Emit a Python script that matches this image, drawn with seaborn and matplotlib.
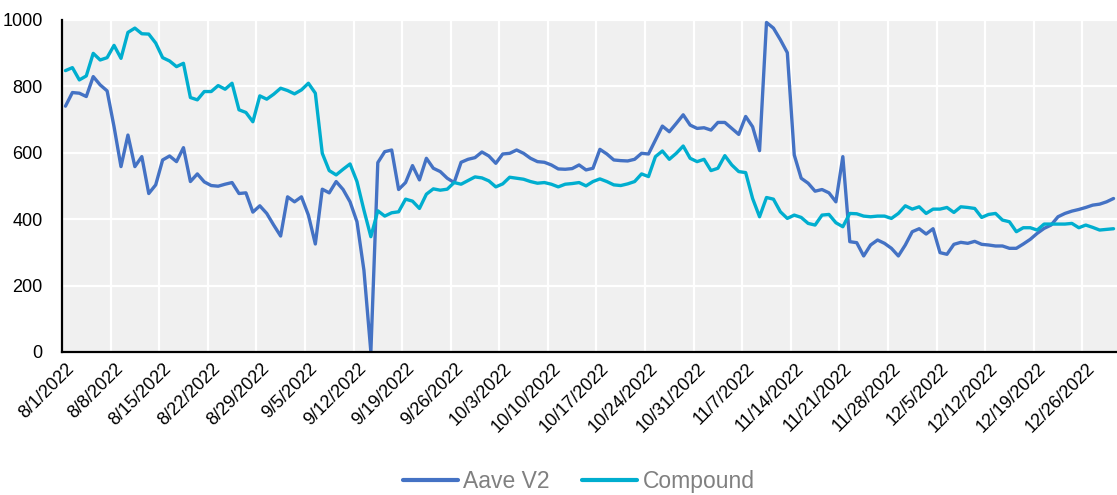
import matplotlib
matplotlib.use("Agg")
import matplotlib.pyplot as plt
import matplotlib.transforms as mtransforms
import pandas as pd
import seaborn as sns

# Datos diarios (8/1/2022 - 12/30/2022)
fecha_inicio = "2022-08-01"

aave_v2 = [
    740, 781, 779, 769, 829, 804, 786, 678, 558, 653,
    558, 588, 477, 503, 578, 590, 573, 615, 513, 536,
    512, 501, 499, 505, 510, 477, 479, 421, 440, 417,
    382, 349, 467, 452, 467, 412, 325, 490, 479, 513,
    489, 452, 392, 246, 0, 570, 603, 608, 489, 510,
    561, 518, 583, 553, 543, 523, 510, 571, 580, 585,
    602, 590, 568, 596, 598, 608, 598, 583, 573, 571,
    563, 551, 550, 552, 563, 548, 553, 610, 596, 578,
    576, 575, 580, 598, 596, 638, 680, 663, 688, 714,
    683, 673, 675, 668, 691, 691, 673, 655, 709, 678,
    606, 992, 975, 940, 901, 593, 523, 508, 484, 489,
    479, 452, 588, 332, 329, 289, 322, 337, 327, 312,
    289, 322, 362, 371, 355, 371, 299, 294, 324, 330,
    327, 333, 324, 322, 319, 319, 312, 312, 325, 339,
    357, 372, 382, 407, 417, 424, 429, 435, 442, 445,
    452, 462,
]

compound = [
    847, 856, 819, 831, 899, 879, 886, 923, 884, 962,
    975, 958, 957, 930, 886, 876, 859, 869, 766, 759,
    784, 784, 802, 791, 809, 729, 721, 693, 771, 761,
    776, 794, 787, 777, 789, 809, 779, 598, 546, 533,
    550, 566, 513, 427, 347, 425, 409, 419, 422, 460,
    454, 432, 475, 491, 487, 490, 510, 505, 516, 527,
    524, 515, 497, 506, 526, 523, 520, 513, 508, 510,
    505, 497, 505, 507, 510, 500, 513, 521, 513, 503,
    501, 506, 513, 536, 528, 588, 605, 580, 598, 620,
    583, 573, 580, 546, 553, 591, 563, 543, 540, 462,
    407, 465, 460, 422, 402, 412, 405, 387, 382, 412,
    414, 389, 377, 417, 416, 409, 407, 409, 409, 402,
    417, 440, 430, 437, 417, 430, 430, 435, 420, 437,
    435, 432, 405, 414, 417, 397, 392, 362, 374, 374,
    367, 385, 385, 385, 385, 387, 374, 382, 375, 367,
    369, 371,
]

series = ["Aave V2", "Compound"]
colores = ["#4472C4", "#00AECF"]

fechas = pd.date_range(fecha_inicio, periods=len(aave_v2), freq="D")
# los puntos van en el centro de cada día, como en Excel
df = pd.DataFrame({"Fecha": fechas + pd.Timedelta(hours=12),
                   "Aave V2": aave_v2, "Compound": compound})
largo = df.melt(id_vars="Fecha", var_name="Serie", value_name="Valor")

sns.set_theme(style="white")
plt.rcParams["font.family"] = ["Liberation Sans Narrow", "Liberation Sans", "DejaVu Sans"]

fig, ax = plt.subplots(figsize=(11.17, 4.95), dpi=100)
fig.subplots_adjust(left=0.0555, right=1.0, top=0.96, bottom=0.289)
ax.set_facecolor("#F0F0F0")

sns.lineplot(data=largo, x="Fecha", y="Valor", hue="Serie", hue_order=series,
             palette=colores, linewidth=2.4, ax=ax)

ax.set_xlim(fechas[0], fechas[-1] + pd.Timedelta(days=1))
ax.set_ylim(0, 1000)

marcas = pd.date_range(fecha_inicio, "2022-12-26", freq="7D")
ax.set_xticks(marcas)
ax.set_xticklabels([f"{d.month}/{d.day}/{d.year}" for d in marcas],
                   rotation=45, ha="right", va="top", rotation_mode="anchor")
ax.set_yticks(range(0, 1001, 200))

ax.grid(True, color="white", linewidth=1.6)
ax.set_axisbelow(True)
ax.set_xlabel("")
ax.set_ylabel("")

for lado in ["top", "right"]:
    ax.spines[lado].set_visible(False)
for lado in ["left", "bottom"]:
    ax.spines[lado].set_color("black")
    ax.spines[lado].set_linewidth(1.6)

ax.tick_params(axis="both", direction="in", length=4, width=1.2, color="black",
               labelsize=13, labelcolor="black")
ax.tick_params(axis="x", pad=6)
ax.tick_params(axis="y", pad=14)

# desplazar un poco las etiquetas de fecha a la derecha
desp = mtransforms.ScaledTranslation(4 / 100, 0, fig.dpi_scale_trans)
for lbl in ax.get_xticklabels():
    lbl.set_transform(lbl.get_transform() + desp)

handles, labels = ax.get_legend_handles_labels()
ax.get_legend().remove()
ley = fig.legend(handles, labels, loc="center", bbox_to_anchor=(0.518, 0.028),
                 ncol=2, frameon=False, fontsize=16.5, handlelength=2.4,
                 columnspacing=1.4, handletextpad=0.25)
for linea in ley.get_lines():
    linea.set_linewidth(3)
for texto in ley.get_texts():
    texto.set_color("#808080")

plt.savefig("out.png", dpi=100)
